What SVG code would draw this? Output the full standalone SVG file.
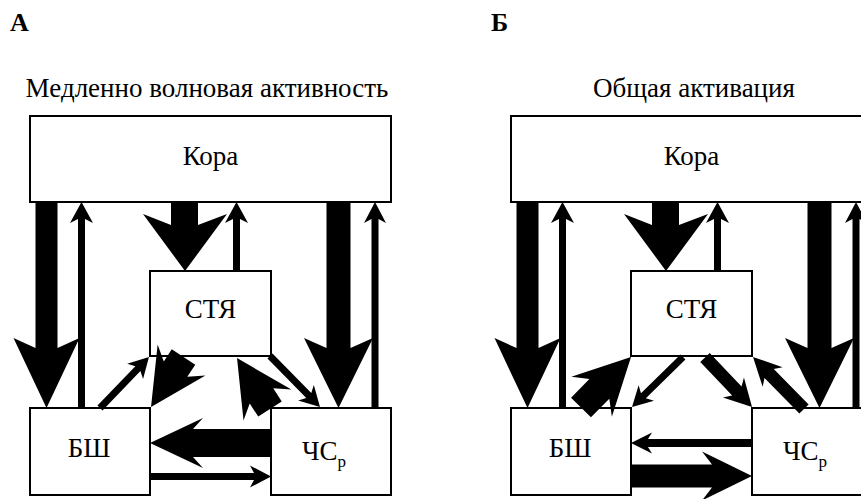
<svg xmlns="http://www.w3.org/2000/svg" width="861" height="499" viewBox="0 0 861 499">
<style>
.box{fill:#fff;stroke:#000;stroke-width:2}
.arr{fill:#000;stroke:none}
</style>
<rect width="861" height="499" fill="#fff"/>
<text x="10" y="31" font-family="Liberation Serif" font-size="26" font-weight="bold" fill="#000">А</text>
<text x="491" y="31" font-family="Liberation Serif" font-size="26" font-weight="bold" fill="#000">Б</text>
<text x="207" y="97" font-family="Liberation Serif" font-size="27" text-anchor="middle" fill="#000">Медленно волновая активность</text>
<text x="694" y="97" font-family="Liberation Serif" font-size="27" text-anchor="middle" fill="#000">Общая активация</text>

<g id="panelA">
  <g id="a-kora"><rect class="box" x="30" y="116" width="361" height="86"/><text x="210.5" y="165" font-family="Liberation Serif" font-size="27" text-anchor="middle" fill="#000">Кора</text></g>
  <g id="a-stya"><rect class="box" x="150" y="271" width="121" height="85"/><text x="210.5" y="318" font-family="Liberation Serif" font-size="27" text-anchor="middle" fill="#000">СТЯ</text></g>
  <g id="a-bsh"><rect class="box" x="30" y="408" width="120" height="87"/><text x="89" y="457" font-family="Liberation Serif" font-size="27" text-anchor="middle" fill="#000">БШ</text></g>
  <g id="a-chsr"><rect class="box" x="271" y="408" width="120" height="87"/><text x="302" y="460" font-family="Liberation Serif" font-size="27" fill="#000">ЧС<tspan font-size="17" dy="7">р</tspan></text></g>
  <g id="a-connectors">
    <polygon class="arr" points="35.5,202 57.5,202 57.5,348 79.5,338 46.5,408 13.5,338 35.5,348"/>
    <polygon class="arr" points="78,408 85,408 85,219 93,223 81.5,202 70,223 78,219"/>
    <polygon class="arr" points="171,202 198,202 198,225 227,214 185,271 143,214 171,225"/>
    <polygon class="arr" points="233,271 240,271 240,219 248,223 236.5,202 225,223 233,219"/>
    <polygon class="arr" points="326.5,202 350.5,202 350.5,348 373,338 338.5,408 304,338 326.5,348"/>
    <polygon class="arr" points="371.5,408 378.5,408 378.5,219 386,223 375,202 364,223 371.5,219"/>
    <polygon class="arr" transform="translate(100,408) rotate(-46.15)" points="0,-3.5 54.7,-3.5 50.7,-11 70.7,0 50.7,11 54.7,3.5 0,3.5"/>
    <polygon class="arr" transform="translate(183.5,357) rotate(123.02)" points="0,-14 14.6,-14 3.6,-28.5 59.6,0 3.6,28.5 14.6,14 0,14"/>
    <polygon class="arr" transform="translate(270,409) rotate(-122.9)" points="0,-14 15.7,-14 4.7,-28.5 60.7,0 4.7,28.5 15.7,14 0,14"/>
    <polygon class="arr" transform="translate(270,356) rotate(45.56)" points="0,-3.5 55.4,-3.5 51.4,-11 71.4,0 51.4,11 55.4,3.5 0,3.5"/>
    <polygon class="arr" points="271,429 193,429 203,418 150,443 203,468 193,457 271,457"/>
    <polygon class="arr" points="150,473 254,473 250,465.5 271,476.5 250,487.5 254,480 150,480"/>
  </g>
</g>

<g id="panelB" transform="translate(481,0)">
  <g id="b-kora"><rect class="box" x="30" y="116" width="361" height="86"/><text x="210.5" y="165" font-family="Liberation Serif" font-size="27" text-anchor="middle" fill="#000">Кора</text></g>
  <g id="b-stya"><rect class="box" x="150" y="271" width="121" height="85"/><text x="210.5" y="318" font-family="Liberation Serif" font-size="27" text-anchor="middle" fill="#000">СТЯ</text></g>
  <g id="b-bsh"><rect class="box" x="30" y="408" width="120" height="87"/><text x="89" y="457" font-family="Liberation Serif" font-size="27" text-anchor="middle" fill="#000">БШ</text></g>
  <g id="b-chsr"><rect class="box" x="271" y="408" width="120" height="87"/><text x="302" y="460" font-family="Liberation Serif" font-size="27" fill="#000">ЧС<tspan font-size="17" dy="7">р</tspan></text></g>
  <g id="b-connectors">
    <polygon class="arr" points="35.5,202 57.5,202 57.5,348 79.5,338 46.5,408 13.5,338 35.5,348"/>
    <polygon class="arr" points="78,408 85,408 85,219 93,223 81.5,202 70,223 78,219"/>
    <polygon class="arr" points="171,202 198,202 198,225 227,214 185,271 143,214 171,225"/>
    <polygon class="arr" points="233,271 240,271 240,219 248,223 236.5,202 225,223 233,219"/>
    <polygon class="arr" points="326.5,202 350.5,202 350.5,348 373,338 338.5,408 304,338 326.5,348"/>
    <polygon class="arr" points="371.5,408 378.5,408 378.5,219 386,223 375,202 364,223 371.5,219"/>
    <polygon class="arr" transform="translate(100,407.5) rotate(-45.3)" points="0,-14 26.1,-14 15.1,-28.5 71.1,0 15.1,28.5 26.1,14 0,14"/>
    <polygon class="arr" transform="translate(202,357) rotate(135.56)" points="0,-3.5 55.4,-3.5 51.4,-11 71.4,0 51.4,11 55.4,3.5 0,3.5"/>
    <polygon class="arr" transform="translate(224,357.5) rotate(46.5)" points="0,-6.5 46.3,-6.5 41.3,-14.5 68.3,0 41.3,14.5 46.3,6.5 0,6.5"/>
    <polygon class="arr" transform="translate(323,409) rotate(-134.45)" points="0,-6.5 49.8,-6.5 44.8,-14 72.8,0 44.8,14 49.8,6.5 0,6.5"/>
    <polygon class="arr" points="271,439 167,439 171,432.5 150,443 171,453.5 167,447 271,447"/>
    <polygon class="arr" points="150,464.5 231,464.5 221,451.5 271,476 221,500.5 231,487.5 150,487.5"/>
  </g>
</g>
</svg>
